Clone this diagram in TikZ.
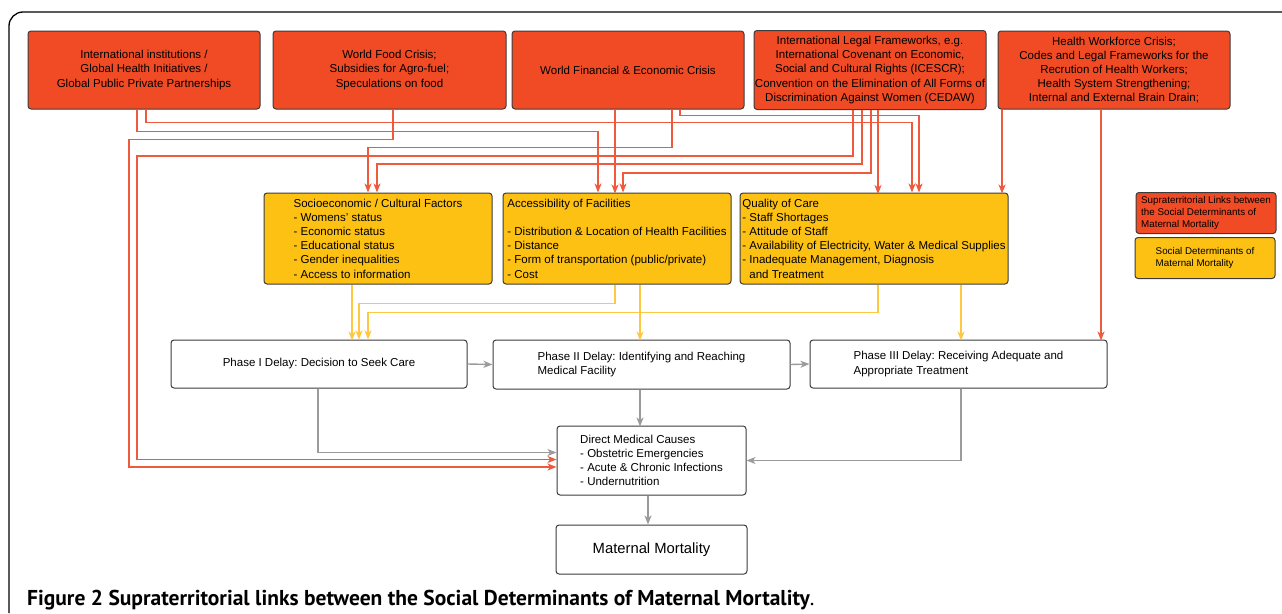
\documentclass[tikz,border=0pt]{standalone}
\usepackage{fontspec}
\setmainfont{Liberation Sans}
\newfontfamily\capfont{PT Sans}
\usepackage{tikz}
\usetikzlibrary{arrows.meta,positioning}
\usepackage{xcolor}
\frenchspacing

\definecolor{linkred}{HTML}{F04B25}
\definecolor{determyellow}{HTML}{FDC114}
\definecolor{redwire}{HTML}{F05A3C}
\definecolor{yellowwire}{HTML}{FEC840}
\definecolor{graywire}{HTML}{9B9B9B}
\definecolor{boxline}{HTML}{3C3C3C}

\begin{document}
\begin{tikzpicture}[x=1pt,y=-1pt]
    \tikzstyle{block} = [rectangle, draw=boxline, line width=1pt, rounded corners=3pt,
               inner sep=0pt, font=\fontsize{11.5}{14.2}\selectfont, align=center]
    \tikzstyle{supra} = [block, fill=linkred, minimum width=232pt, minimum height=78pt]
    \tikzstyle{determ} = [block, fill=determyellow, align=left, minimum height=91pt]
    \tikzstyle{delay} = [block, fill=white, align=left, minimum height=48pt, minimum width=297pt]
    \tikzstyle{legendbox} = [block, align=left, minimum width=140pt, minimum height=41pt,
               font=\fontsize{9.8}{12}\selectfont]
    \tikzstyle{redline} = [draw=redwire, line width=1.2pt, -{Stealth[length=9pt,width=7pt,inset=2.5pt]}]
    \tikzstyle{yellowline} = [draw=yellowwire, line width=1.4pt, -{Stealth[length=9pt,width=7pt,inset=2.5pt]}]
    \tikzstyle{grayline} = [draw=graywire, line width=1.4pt, -{Stealth[length=9pt,width=7pt,inset=2.5pt]}]

    \useasboundingbox (0,0) rectangle (1282,613);

    % Frame
    \draw [line width=1.3pt, rounded corners=14pt] (9,613) -- (9,12) -- (1282,12);

    % Supraterritorial links
    \node [supra] (inst) at (144,70)
      {International institutions /\\ Global Health Initiatives /\\ Global Public Private Partnerships};
    \node [supra, minimum width=233pt] (food) at (389.5,70)
      {World Food Crisis;\\ Subsidies for Agro-fuel;\\ Speculations on food};
    \node [supra] (fin) at (628,70) {World Financial \& Economic Crisis};
    \node [supra, minimum height=79pt] (legal) at (870,70)
      {International Legal Frameworks, e.g.\\ International Covenant on Economic,\\
       Social and Cultural Rights (ICESCR);\\ Convention on the Elimination of All Forms of\\
       Discrimination Against Women (CEDAW)};
    \node [supra] (work) at (1114,70)
      {Health Workforce Crisis;\\ Codes and Legal Frameworks for the\\ Recrution of Health Workers;\\
       Health System Strengthening;\\ Internal and External Brain Drain;};

    % Social determinants
    \node [determ, minimum width=228pt] (socio) at (378,238.5)
      {Socioeconomic / Cultural Factors\\ - Womens' status\\ - Economic status\\
       - Educational status\\ - Gender inequalities\\ - Access to information};
    \node [determ, minimum width=228pt] (access) at (617,238.5)
      {Accessibility of Facilities\\[14pt] - Distribution \& Location of Health Facilities\\
       - Distance\\ - Form of transportation (public/private)\\ - Cost};
    \node [determ, minimum width=268pt] (quality) at (874,238.5)
      {Quality of Care\\ - Staff Shortages\\ - Attitude of Staff\\
       - Availability of Electricity, Water \& Medical Supplies\\
       - Inadequate Management, Diagnosis\\ \hspace*{7pt}and Treatment};

    % Delays
    \node [delay, minimum width=296pt] (phase1) at (319,364) {Phase I Delay: Decision to Seek Care};
    \node [delay, minimum height=49pt] (phase2) at (641.5,364.5)
      {Phase II Delay: Identifying and Reaching\\ Medical Facility};
    \node [delay] (phase3) at (958.5,364)
      {Phase III Delay: Receiving Adequate and\\ Appropriate Treatment};

    \node [delay, minimum width=189pt, minimum height=69pt] (direct) at (651.5,460.5)
      {Direct Medical Causes\\ - Obstetric Emergencies\\ - Acute \& Chronic Infections\\ - Undernutrition};
    \node [delay, align=center, minimum width=191pt, minimum height=49pt,
      font=\fontsize{14.8}{17}\selectfont, below=29pt of direct] (mort) {Maternal Mortality};

    % Legend
    \node [legendbox, fill=linkred] (leg1) at (1206,213)
      {Supraterritorial Links between\\ the Social Determinants of\\ Maternal Mortality};
    \node [legendbox, fill=determyellow, below=3pt of leg1, xshift=-1pt] (leg2)
      {Social Determinants of\\ Maternal Mortality};

    % Supraterritorial connectors
    \draw [redline] ([xshift=52pt]fin.south) -- ++(0,6) -| ([xshift=45pt]quality.north);
    \draw [redline] ([xshift=2pt]inst.south) -- ++(0,13) -| ([xshift=38pt]quality.north);
    \draw [redline] ([xshift=-7pt]inst.south) -- ++(0,22) -| ([xshift=-19pt]access.north);
    \draw [redline] ([xshift=3.5pt]food.south) -- ++(0,30) -| (129,467) -- ([yshift=-6.5pt]direct.west);
    \draw [redline] ([xshift=44pt]fin.south) -- ++(0,38) -| ([xshift=-10pt]socio.north);
    \draw [redline] ([xshift=-17pt]legal.south) -- ++(0,46) -| (137,459.5) -- ([yshift=1pt]direct.west);
    \draw [redline] ([xshift=-8pt]legal.south) -- ++(0,54) -| ([xshift=-1pt]socio.north);
    \draw [redline] ([xshift=1pt]legal.south) -- ++(0,63) -| ([xshift=6pt]access.north);
    \draw [redline] ([xshift=-13pt]fin.south) -- ++(0,84);
    \draw [redline] ([xshift=8pt]legal.south) -- ++(0,84);
    \draw [redline] ([xshift=-112pt]work.south) -- ++(0,84);
    \draw [redline] ([xshift=-13pt]work.south) -- ++(0,231);

    % Determinant connectors
    \draw [yellowline] ([xshift=-26pt]socio.south) -- ++(0,56);
    \draw [yellowline] ([xshift=-2pt]access.south) -- ++(0,19) -| ([xshift=40pt]phase1.north);
    \draw [yellowline] ([xshift=4pt]quality.south) -- ++(0,28) -| ([xshift=49pt]phase1.north);
    \draw [yellowline] ([xshift=23pt]access.south) -- ++(0,56);
    \draw [yellowline] ([xshift=87pt]quality.south) -- ++(0,56);

    % Delay connectors
    \draw [grayline] (phase1.east) -- (phase2.west);
    \draw [grayline] (phase2.east) -- (phase3.west);
    \draw [grayline] ([xshift=-1pt]phase1.south) |- ([yshift=8pt]direct.west);
    \draw [grayline] ([xshift=-1.5pt]phase2.south) -- ++(0,37);
    \draw [grayline] ([xshift=2.5pt]phase3.south) |- (direct.east);
    \draw [grayline] ([xshift=-3.5pt]direct.south) -- ++(0,29);

    % Caption
    \node [anchor=base west, inner sep=0pt, font=\capfont\fontsize{21.5}{24}\selectfont] (caption) at (27,605)
      {\bfseries Figure 2 Supraterritorial links between the Social Determinants of Maternal Mortality\mdseries.};
\end{tikzpicture}
\end{document}
